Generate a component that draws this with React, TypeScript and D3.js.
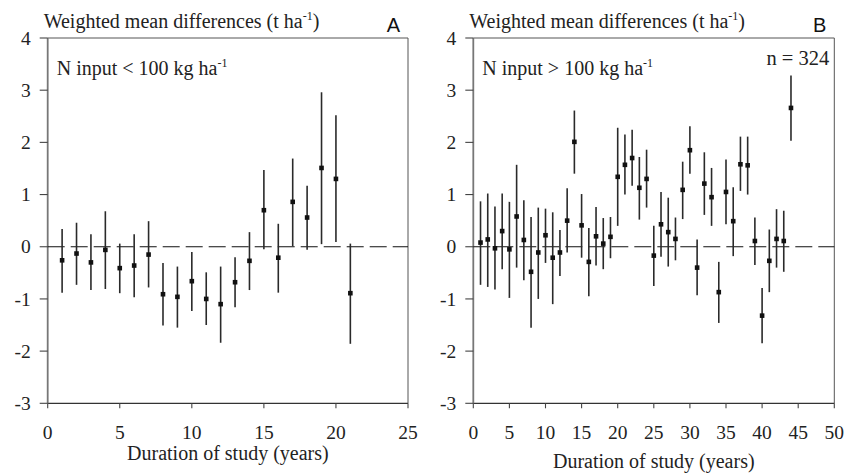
import React from "react";
import * as d3 from "d3";

const yearsA = [1, 2, 3, 4, 5, 6, 7, 8, 9, 10, 11, 12, 13, 14, 15, 16, 17, 18, 19, 20, 21];
const meanA = [-0.26, -0.13, -0.3, -0.06, -0.41, -0.36, -0.15, -0.91, -0.96, -0.66, -1.0, -1.1, -0.68, -0.27, 0.7, -0.21, 0.86, 0.56, 1.51, 1.3, -0.89];
const upperA = [0.34, 0.46, 0.24, 0.68, 0.06, 0.24, 0.49, -0.31, -0.38, -0.1, -0.49, -0.38, -0.2, 0.28, 1.47, 0.44, 1.69, 1.17, 2.96, 2.52, 0.06];
const lowerA = [-0.88, -0.73, -0.83, -0.81, -0.89, -0.97, -0.78, -1.51, -1.55, -1.23, -1.5, -1.84, -1.16, -0.83, -0.05, -0.88, 0.01, -0.06, 0.05, 0.09, -1.86];

const yearsB = [1, 2, 3, 4, 5, 6, 7, 8, 9, 10, 11, 12, 13, 14, 15, 16, 17, 18, 19, 20, 21, 22, 23, 24, 25, 26, 27, 28, 29, 30, 31, 32, 33, 34, 35, 36, 37, 38, 39, 40, 41, 42, 43, 44];
const meanB = [0.08, 0.14, -0.03, 0.3, -0.05, 0.58, 0.13, -0.48, -0.11, 0.22, -0.21, -0.11, 0.5, 2.01, 0.41, -0.29, 0.2, 0.06, 0.19, 1.34, 1.57, 1.7, 1.13, 1.3, -0.17, 0.43, 0.28, 0.15, 1.09, 1.85, -0.4, 1.21, 0.95, -0.87, 1.05, 0.49, 1.58, 1.56, 0.11, -1.32, -0.27, 0.15, 0.11, 2.66];
const upperB = [0.87, 1.02, 0.77, 1.02, 0.86, 1.57, 0.89, 0.57, 0.75, 0.73, 0.66, 0.32, 1.12, 2.61, 1.01, 0.36, 0.76, 0.55, 0.57, 2.28, 2.15, 2.24, 1.72, 1.86, 0.4, 1.05, 0.94, 0.56, 1.63, 2.31, 0.14, 1.81, 1.51, -0.29, 1.67, 1.14, 2.11, 2.11, 0.56, -0.79, 0.33, 0.72, 0.69, 3.28];
const lowerB = [-0.73, -0.77, -0.82, -0.43, -0.98, -0.4, -0.64, -1.55, -1.0, -0.31, -1.1, -0.56, -0.11, 1.4, -0.21, -0.95, -0.36, -0.43, -0.22, 0.4, 1.0, 1.17, 0.52, 0.75, -0.75, -0.19, -0.38, -0.26, 0.53, 1.4, -0.93, 0.61, 0.4, -1.46, 0.43, -0.18, 1.07, 1.0, -0.35, -1.85, -0.87, -0.4, -0.48, 2.03];

const yTicks = [4, 3, 2, 1, 0, -1, -2, -3];
const xTicksA = [0, 5, 10, 15, 20, 25];
const xTicksB = [0, 5, 10, 15, 20, 25, 30, 35, 40, 45, 50];

const SERIF = "Liberation Serif, Tinos, DejaVu Serif, Times New Roman, serif";
const SANS = "Liberation Sans, Arimo, Arial, sans-serif";

type PanelProps = {
  left: number;
  right: number;
  xMax: number;
  xTicks: number[];
  years: number[];
  mean: number[];
  upper: number[];
  lower: number[];
  letter: string;
  label: string;
  xTitleY: number;
  showN?: boolean;
};

const serifStyle = { fontFamily: SERIF };

function Panel(p: PanelProps) {
  const top = 38;
  const bottom = 403.3;
  const x = d3.scaleLinear().domain([0, p.xMax]).range([p.left, p.right]);
  const y = d3.scaleLinear().domain([-3, 4]).range([bottom, top]);
  const frame = "#555";
  return (
    <g>
      <line x1={p.left} x2={p.right} y1={top} y2={top} stroke={frame} strokeWidth={1} />
      <line x1={p.right} x2={p.right} y1={top} y2={bottom} stroke={frame} strokeWidth={1} />
      <line x1={p.left} x2={p.right} y1={bottom} y2={bottom} stroke="#333" strokeWidth={1.3} />
      <line x1={p.left} x2={p.left} y1={top} y2={bottom} stroke="#777" strokeWidth={1.8} />
      {yTicks.map((t) => (
        <g key={"y" + t}>
          <line x1={p.left - 8} x2={p.left} y1={y(t)} y2={y(t)} stroke="#444" strokeWidth={1.1} />
          <text x={p.left - 17} y={y(t)} dy="0.34em" textAnchor="end" style={serifStyle} fontSize={19.5} fill="#222">
            {t}
          </text>
        </g>
      ))}
      {p.xTicks.map((t) => (
        <g key={"x" + t}>
          <line x1={x(t)} x2={x(t)} y1={bottom} y2={bottom + 5} stroke="#444" strokeWidth={1.1} />
          <text x={x(t)} y={bottom + 29} dy="0.34em" textAnchor="middle" style={serifStyle} fontSize={19.5} fill="#222">
            {t}
          </text>
        </g>
      ))}
      <line x1={p.left} x2={p.right} y1={y(0)} y2={y(0)} stroke="#111" strokeWidth={1.2} strokeDasharray="17,6" />
      {p.years.map((yr, i) => (
        <g key={"e" + yr}>
          <line x1={x(yr)} x2={x(yr)} y1={y(p.upper[i])} y2={y(p.lower[i])} stroke="#2a2a2a" strokeWidth={1.6} />
          <rect x={x(yr) - 2.3} y={y(p.mean[i]) - 2.3} width={4.6} height={4.6} fill="#111" />
        </g>
      ))}
      <text x={p.left - 4} y={28} style={serifStyle} fontSize={20} fill="#222">
        Weighted mean differences (t ha
        <tspan fontSize={12} dy={-8}>-1</tspan>
        <tspan dy={8}>)</tspan>
      </text>
      <text x={p.right - 8} y={32} textAnchor="end" style={{ fontFamily: SANS }} fontSize={20} fill="#111">
        {p.letter}
      </text>
      <text x={p.left + 9} y={75} style={serifStyle} fontSize={20} fill="#222">
        {p.label}
        <tspan fontSize={12} dy={-8}>-1</tspan>
      </text>
      {p.showN && (
        <text x={p.right - 5} y={65} textAnchor="end" style={serifStyle} fontSize={20.5} fill="#222">
          n = 324
        </text>
      )}
      <text x={(p.left + p.right) / 2} y={p.xTitleY} textAnchor="middle" style={serifStyle} fontSize={20} fill="#222">
        Duration of study (years)
      </text>
    </g>
  );
}

export default function App() {
  return (
    <svg width={857} height={474} style={{ position: "absolute", left: 0, top: 0, background: "#fff" }}>
      <rect width={857} height={474} fill="#fff" />
      <Panel
        left={47.7}
        right={408}
        xMax={25}
        xTicks={xTicksA}
        years={yearsA}
        mean={meanA}
        upper={upperA}
        lower={lowerA}
        letter="A"
        label="N input < 100 kg ha"
        xTitleY={460}
      />
      <Panel
        left={473.3}
        right={834.3}
        xMax={50}
        xTicks={xTicksB}
        years={yearsB}
        mean={meanB}
        upper={upperB}
        lower={lowerB}
        letter="B"
        label="N input > 100 kg ha"
        xTitleY={468}
        showN
      />
    </svg>
  );
}
